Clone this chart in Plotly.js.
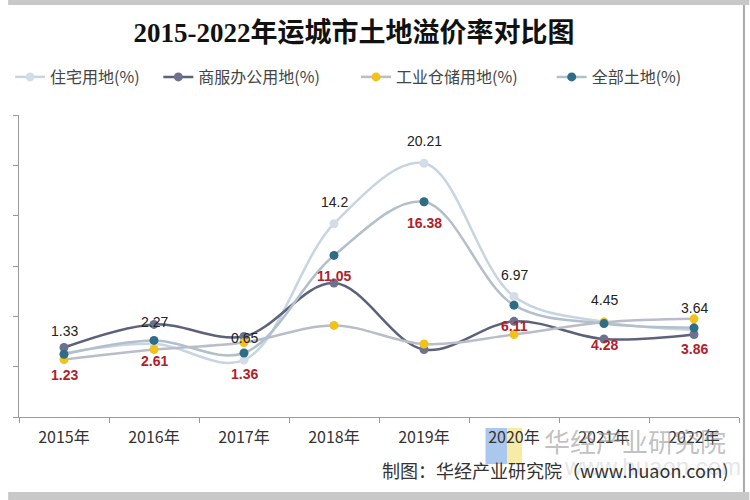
<!DOCTYPE html>
<html>
<head>
<meta charset="utf-8">
<script src="https://cdn.plot.ly/plotly-3.0.1.min.js"></script>
<style>html,body{margin:0;padding:0;background:#fff;}#chart{width:750px;height:500px;}</style>
</head>
<body>
<div id="chart"></div>
<script>
// ---- data ----
const years = ["2015年","2016年","2017年","2018年","2019年","2020年","2021年","2022年"];
const seriesNames = ["住宅用地(%)","商服办公用地(%)","工业仓储用地(%)","全部土地(%)"];
const residential = [1.33, 2.27, 0.65, 14.2, 20.21, 6.97, 4.45, 3.64];
const commercial  = [1.9, 4.2, 3.0, 8.3, 1.7, 4.5, 2.75, 3.2];
const industrial  = [0.7, 1.7, 2.4, 4.1, 2.25, 3.2, 4.4, 4.75];
const allLand     = [1.23, 2.61, 1.36, 11.05, 16.38, 6.11, 4.28, 3.86];
const titleText = "2015-2022年运城市土地溢价率对比图";
const sourceText = "制图：华经产业研究院（www.huaon.com)";
const watermarkText = "华经产业研究院";
const watermarkUrl = "www.huaon.com";

// ---- geometry helpers (layout only) ----
const W = 750, H = 500;
const M = {l: 11, r: 10.5, t: 115, b: 83};
const PW = W - M.l - M.r, PH = H - M.t - M.b;
const px = x => (x - M.l) / PW;
const py = y => (H - M.b - y) / PH;

const CJK = "Noto Sans CJK SC, sans-serif";
const ARIAL = "Liberation Sans, Arial, sans-serif";
const legendIds = ["legend", "legend2", "legend3", "legend4"];
const legendX = [2, 152, 352, 550];

function mk(i, y, lineColor, markerColor) {
  return {
    type: "scatter", mode: "lines+markers", name: seriesNames[i], legend: legendIds[i],
    x: years, y: y,
    line: {color: lineColor, width: 2.5, shape: "spline", smoothing: 1},
    marker: {color: markerColor, size: 9, line: {width: 0}},
    hoverinfo: "skip"
  };
}

const traces = [
  mk(0, residential, "#c6d5e1", "#d3dde5"),
  mk(1, commercial, "#5d6179", "#6d7190"),
  mk(2, industrial, "#b9bccb", "#f0c21a"),
  mk(3, allLand, "#b3bfcb", "#2f6c86")
];

const annotations = [];
years.forEach((yr, i) => {
  annotations.push({x: yr, y: residential[i], xref: "x", yref: "y", text: String(residential[i]),
    showarrow: false, yshift: 22, font: {family: ARIAL, size: 14, color: "#222"}});
  annotations.push({x: yr, y: allLand[i], xref: "x", yref: "y", text: "<b>" + allLand[i] + "</b>",
    showarrow: false, yshift: -21, font: {family: ARIAL, size: 14, color: "#b3202a"}});
});
annotations.push({xref: "paper", yref: "paper", x: px(540), y: py(440), xanchor: "left", yanchor: "middle",
  text: watermarkText, showarrow: false, font: {family: CJK, size: 26, color: "rgba(140,140,140,0.55)"}});
annotations.push({xref: "paper", yref: "paper", x: px(560), y: py(466), xanchor: "left", yanchor: "middle",
  text: watermarkUrl, showarrow: false, font: {family: ARIAL, size: 24, color: "rgba(190,190,190,0.4)"}});
annotations.push({xref: "paper", yref: "paper", x: px(731), y: py(470), xanchor: "right", yanchor: "middle",
  text: sourceText, showarrow: false, font: {family: CJK, size: 18, color: "#333"}});

const shapes = [
  {type: "rect", xref: "paper", yref: "paper", x0: px(483), x1: px(505), y0: py(464), y1: py(428),
    fillcolor: "#aac8ee", line: {width: 0}, layer: "below"},
  {type: "rect", xref: "paper", yref: "paper", x0: px(505), x1: px(520), y0: py(464), y1: py(428),
    fillcolor: "#f8eba8", line: {width: 0}, layer: "below"},
  {type: "rect", xref: "paper", yref: "paper", x0: px(0), x1: px(750), y0: py(5), y1: py(0),
    fillcolor: "#c8c8c8", line: {width: 0}, layer: "above"},
  {type: "rect", xref: "paper", yref: "paper", x0: px(0), x1: px(750), y0: py(500), y1: py(492),
    fillcolor: "#c8c8c8", line: {width: 0}, layer: "above"},
  {type: "line", xref: "paper", yref: "paper", x0: px(744.5), x1: px(744.5), y0: py(492), y1: py(5),
    line: {color: "#a8a8a8", width: 2}, layer: "above"}
];

const layout = {
  width: W, height: H,
  margin: {l: M.l, r: M.r, t: M.t, b: M.b, pad: 0},
  paper_bgcolor: "#ffffff", plot_bgcolor: "rgba(0,0,0,0)",
  title: {text: titleText, x: 354 / W, xref: "container", xanchor: "center",
    y: 1 - 33 / H, yanchor: "middle",
    font: {family: "Liberation Serif, Noto Sans CJK SC, serif", size: 27, color: "#111", weight: "bold"}},
  showlegend: true,
  xaxis: {type: "category", range: [-0.5, 7.5], showline: true, linecolor: "#9a9a9a", linewidth: 1,
    ticks: "outside", tickson: "boundaries", ticklen: 5, tickcolor: "#9a9a9a", showgrid: false, zeroline: false,
    ticklabelstandoff: 6,
    tickfont: {family: CJK, size: 16, color: "#333"}, fixedrange: true},
  yaxis: {range: [-5, 25], dtick: 5, showline: true, linecolor: "#9a9a9a", linewidth: 1,
    ticks: "outside", ticklen: 5, tickcolor: "#9a9a9a", showgrid: false, zeroline: false,
    showticklabels: false, fixedrange: true},
  annotations: annotations,
  shapes: shapes
};
legendIds.forEach((id, i) => {
  layout[id] = {orientation: "h", x: px(legendX[i]), xanchor: "left", y: py(77), yanchor: "middle",
    font: {family: CJK, size: 16, color: "#444"}, itemwidth: 30, bgcolor: "rgba(0,0,0,0)"};
});

Plotly.newPlot("chart", traces, layout, {displayModeBar: false, staticPlot: true});
</script>
</body>
</html>
